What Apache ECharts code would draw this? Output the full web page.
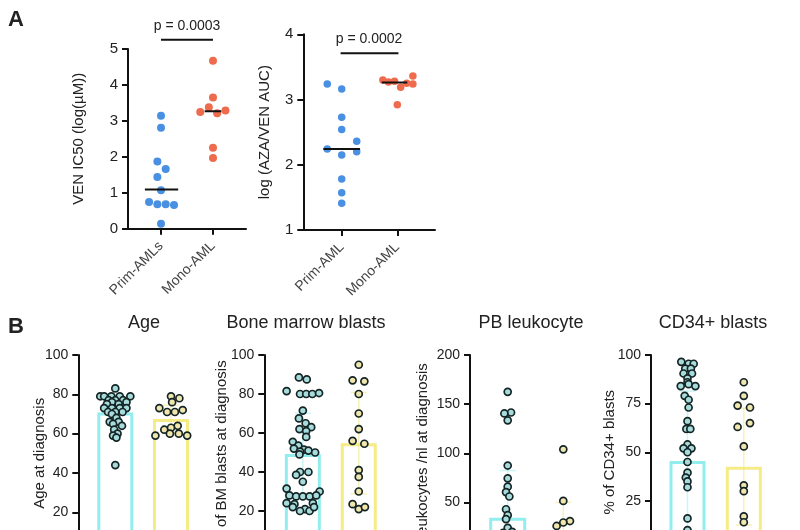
<!DOCTYPE html>
<html><head><meta charset="utf-8">
<script src="https://cdn.jsdelivr.net/npm/echarts@6/dist/echarts.min.js"></script>
<style>html,body{margin:0;padding:0;background:#fff;overflow:hidden;width:800px;height:530px}#c{width:800px;height:570px}</style>
</head><body><div id="c"></div>
<script>
// ---------- Panel A, left: VEN IC50 ----------
const a1Categories = ['Prim-AMLs', 'Mono-AML'];
// [value, beeswarm offset]
const a1Prim = [[3.14,0],[2.81,0],[1.87,-0.07],[1.66,0.09],[1.44,-0.07],[1.07,0],[0.74,-0.23],[0.68,-0.07],[0.68,0.09],[0.66,0.25],[0.14,0]];
const a1Mono = [[4.67,0],[3.65,0],[3.38,-0.08],[3.25,-0.245],[3.21,0.08],[3.29,0.24],[2.25,0],[1.97,0]];
const a1Medians = [1.09, 3.27];
const a1Bracket = 5.26;
const a1P = 'p = 0.0003';
const a1YName = 'VEN IC50 (log(µM))';

// ---------- Panel A, right: AZA/VEN AUC ----------
const a2Categories = ['Prim-AML', 'Mono-AML'];
const a2Prim = [[3.24,-0.26],[3.16,0],[2.73,0],[2.54,0],[2.36,0.27],[2.24,-0.26],[2.15,0],[2.20,0.27],[1.78,0],[1.57,0],[1.41,0]];
const a2Mono = [[3.30,-0.26],[3.27,-0.16],[3.28,-0.05],[3.19,0.06],[3.25,0.17],[3.36,0.28],[3.24,0.28],[2.92,0]];
const a2Medians = [2.24, 3.26];
const a2Bracket = 3.71;
const a2P = 'p = 0.0002';
const a2YName = 'log (AZA/VEN AUC)';

// ---------- Panel B ----------
const bTitles = ['Age', 'Bone marrow blasts', 'PB leukocyte', 'CD34+ blasts'];
const bYNames = ['Age at diagnosis', '% of BM blasts at diagnosis', 'Leukocytes /nl at diagnosis', '% of CD34+ blasts'];

const ageBars = [70.7, 67.4];
const ageSD = [7, 7];
const ageG1 = [[83,0],[79,-0.27],[79,-0.2],[79,-0.07],[79,0.08],[79,0.27],[77,-0.12],[77,0.0],[77,0.14],[76,-0.06],[76,0.2],[75,-0.15],[75,0.06],[73,-0.2],[73,-0.06],[73,0.08],[73,0.2],[71,-0.13],[71,0.0],[71,0.13],[70,-0.06],[68,0.02],[66,-0.1],[66,0.06],[65,-0.04],[64,0.12],[62,-0.02],[60,0.04],[59,-0.04],[58,0.02],[44,0]];
const ageG2 = [[79,0],[78,0.15],[76,0.02],[73,-0.21],[71,-0.07],[71,0.07],[72,0.21],[64,0.12],[62,-0.12],[63,0.0],[59,-0.28],[60,-0.02],[60,0.14],[59,0.29]];

const bmBars = [49.2, 54.8];
const bmSD = [21, 26];
const bmG1 = [[88.5,-0.07],[87.5,0.07],[81.5,-0.29],[80,-0.05],[80,0.06],[80,0.17],[80.5,0.29],[71.5,0],[67.5,-0.07],[65,0.05],[63,0.15],[62,-0.06],[61,0.06],[58,0.06],[55.5,-0.18],[53.5,-0.08],[52,-0.16],[51.5,0.02],[51,0.1],[50.5,-0.05],[50,0.22],[49,-0.06],[40,-0.05],[40,0.1],[38.5,-0.12],[35,0.0],[31.5,-0.29],[30,0.3],[28,-0.24],[27.5,-0.12],[27.5,0.0],[27.5,0.12],[28,0.24],[24,-0.29],[23.5,-0.15],[24,0.18],[22,-0.18],[21,0.04],[20,-0.05],[20,0.12],[22,0.2]];
const bmG2 = [[95,0],[87,-0.11],[86.5,0.1],[80,0],[70,0],[62,0],[56,-0.11],[54.5,0.1],[41,0],[37.5,0],[30,0],[23.5,-0.11],[21,0],[22,0.11]];

const pbBars = [34.4, 18];
const pbSD = [48, 32];
const pbG1 = [[162.5,0],[141.5,0.06],[140.5,-0.06],[133.5,0],[87.5,0],[74.5,0],[66,0],[60.5,-0.03],[56,0.03],[43,-0.03],[37,0],[33,-0.03],[24,0],[20,0.08],[19,-0.08],[15,0],[12,0.1],[10,-0.1],[8,0],[6,0.12],[5,-0.12],[4,0],[3,0.06],[2,-0.06]];
const pbG2 = [[104,0],[51.5,0],[31,0.12],[29.5,0],[26,-0.12],[15,0],[10,0.1],[8,-0.1],[5,0],[3,0.12],[2,-0.12]];

const cdBars = [45.5, 42.6];
const cdSD = [36, 30];
const cdG1 = [[96.5,-0.11],[95.5,0.02],[95.5,0.11],[93,-0.04],[93,0.06],[90.5,-0.07],[90.5,0.08],[88,0],[86,0.0],[84,-0.12],[85,0.02],[84,0.14],[79,-0.05],[77,0.02],[73,0.02],[66,0],[62,-0.02],[62,0.05],[54,0],[52,-0.07],[52,0.07],[50,0],[45,0],[39.5,0],[37,-0.03],[35,0],[32,0],[16,0],[10,0],[7,0.08],[5,-0.08],[3,0],[2,0.1],[1,-0.1]];
const cdG2 = [[86,0],[79,0],[74,-0.11],[73,0.11],[63,-0.11],[65,0.11],[53,0],[33,0],[30,0],[17,0],[14,0],[5,0],[3,0.1],[2,-0.1]];

// ---------- styles ----------
const FONT = "'Liberation Sans', Arial, Helvetica, sans-serif";
const BLUE = '#4a90e2', ORANGE = '#ee6b4e';
const CYAN = '#92eeee', YELLOW = '#f5ec86';
const CYAN_FILL = '#a8dcdc', YELLOW_FILL = '#f0e6ae', DOT_STROKE = '#152525';

const chart = echarts.init(document.getElementById('c'), null, {renderer: 'canvas'});

const grids = [
  {left: 128, top: 49, width: 118, height: 179.7},
  {left: 303.3, top: 34.3, width: 131.7, height: 195.7},
  {left: 78.3, top: 355, width: 129.7, height: 196.6},
  {left: 264.3, top: 355, width: 133, height: 195},
  {left: 470, top: 355, width: 131, height: 196.5},
  {left: 651, top: 355, width: 129.3, height: 194.5}
];
const xRanges = [[0.365,2.635],[0.309,2.678],[0.336,2.664],[0.311,2.689],[0.322,2.678],[0.352,2.648]];
const yRanges = [[0,5,1],[1,4,1],[0,100,20],[0,100,20],[0,200,50],[0,100,25]];
const yNames = [a1YName, a2YName].concat(bYNames);
const yNameGaps = [42, 31, 31, 35, 40, 34];
const xCats = [a1Categories, a2Categories];

const xAxes = xRanges.map((r, i) => {
  const base = {type: 'value', gridIndex: i, min: r[0], max: r[1], splitLine: {show: false}};
  if (i < 2) {
    return Object.assign(base, {
      axisLine: {show: true, lineStyle: {color: '#111', width: 2}},
      axisTick: {show: true, customValues: [1, 2], length: 6, lineStyle: {color: '#111', width: 2}},
      axisLabel: {show: true, customValues: [1, 2], rotate: 45, margin: 15, fontSize: 14, color: '#444', fontFamily: FONT,
        formatter: v => xCats[i][Math.round(v) - 1]}
    });
  }
  return Object.assign(base, {show: false});
});

const yAxes = yRanges.map((r, i) => ({
  type: 'value', gridIndex: i, min: r[0], max: r[1], interval: r[2],
  name: yNames[i], nameLocation: 'middle', nameGap: yNameGaps[i], nameMoveOverlap: false,
  nameTextStyle: {fontSize: 15, color: '#222', fontFamily: FONT},
  axisLine: {show: true, lineStyle: {color: '#111', width: 2}},
  axisTick: {show: true, length: 6, lineStyle: {color: '#111', width: 2}},
  axisLabel: {fontSize: i < 2 ? 15 : 14, color: '#222', margin: 10, fontFamily: FONT},
  splitLine: {show: false}
}));

function dotSeries(arr, group, gi, fill, stroke, size, bw) {
  return {
    type: 'scatter', xAxisIndex: gi, yAxisIndex: gi, symbolSize: size, z: 4,
    data: arr.map(d => [group + d[1], d[0]]),
    itemStyle: {color: fill, borderColor: stroke, borderWidth: bw, opacity: 1},
    emphasis: {disabled: true}
  };
}
function hLine(x0, x1, y, gi, clip) {
  return {type: 'line', xAxisIndex: gi, yAxisIndex: gi, symbol: 'none', clip: clip, z: 6,
    data: [[x0, y], [x1, y]], lineStyle: {color: '#111', width: 2}, silent: true};
}
function barSeries(vals, gi, bw) {
  return {type: 'bar', xAxisIndex: gi, yAxisIndex: gi, barWidth: bw, z: 2, silent: true,
    data: [
      {value: [1, vals[0]], itemStyle: {color: 'rgba(0,0,0,0)', borderColor: CYAN, borderWidth: 3}},
      {value: [2, vals[1]], itemStyle: {color: 'rgba(0,0,0,0)', borderColor: YELLOW, borderWidth: 3}}
    ]};
}
function errSeries(vals, sd, gi) {
  const cols = ['rgba(140,230,230,0.45)', 'rgba(240,228,130,0.55)'];
  return {type: 'custom', xAxisIndex: gi, yAxisIndex: gi, z: 3, silent: true,
    data: [[1, vals[0] - sd[0], vals[0] + sd[0], 0], [2, vals[1] - sd[1], vals[1] + sd[1], 1]],
    renderItem: (params, api) => {
      const lo = api.coord([api.value(0), api.value(1)]);
      const hi = api.coord([api.value(0), api.value(2)]);
      const c = cols[api.value(3)];
      const w = 8;
      return {type: 'group', children: [
        {type: 'line', shape: {x1: lo[0], y1: lo[1], x2: hi[0], y2: hi[1]}, style: {stroke: c, lineWidth: 1.5}},
        {type: 'line', shape: {x1: hi[0] - w, y1: hi[1], x2: hi[0] + w, y2: hi[1]}, style: {stroke: c, lineWidth: 1.5}},
        {type: 'line', shape: {x1: lo[0] - w, y1: lo[1], x2: lo[0] + w, y2: lo[1]}, style: {stroke: c, lineWidth: 1.5}}
      ]};
    }};
}

const series = [
  // Panel A left
  dotSeries(a1Prim, 1, 0, BLUE, BLUE, 8, 0),
  dotSeries(a1Mono, 2, 0, ORANGE, ORANGE, 8, 0),
  hLine(1 - 0.31, 1 + 0.33, a1Medians[0], 0, true),
  hLine(2 - 0.16, 2 + 0.16, a1Medians[1], 0, true),
  hLine(1, 2, a1Bracket, 0, false),
  // Panel A right
  dotSeries(a2Prim, 1, 1, BLUE, BLUE, 7.5, 0),
  dotSeries(a2Mono, 2, 1, ORANGE, ORANGE, 7.5, 0),
  hLine(1 - 0.33, 1 + 0.33, a2Medians[0], 1, true),
  hLine(2 - 0.28, 2 + 0.18, a2Medians[1], 1, true),
  hLine(0.98, 2.02, a2Bracket, 1, false),
  // Panel B
  barSeries(ageBars, 2, 36), errSeries(ageBars, ageSD, 2),
  dotSeries(ageG1, 1, 2, CYAN_FILL, DOT_STROKE, 7, 1.7),
  dotSeries(ageG2, 2, 2, YELLOW_FILL, DOT_STROKE, 7, 1.7),
  barSeries(bmBars, 3, 36), errSeries(bmBars, bmSD, 3),
  dotSeries(bmG1, 1, 3, CYAN_FILL, DOT_STROKE, 7, 1.7),
  dotSeries(bmG2, 2, 3, YELLOW_FILL, DOT_STROKE, 7, 1.7),
  barSeries(pbBars, 4, 37), errSeries(pbBars, pbSD, 4),
  dotSeries(pbG1, 1, 4, CYAN_FILL, DOT_STROKE, 7, 1.7),
  dotSeries(pbG2, 2, 4, YELLOW_FILL, DOT_STROKE, 7, 1.7),
  barSeries(cdBars, 5, 36), errSeries(cdBars, cdSD, 5),
  dotSeries(cdG1, 1, 5, CYAN_FILL, DOT_STROKE, 7, 1.7),
  dotSeries(cdG2, 2, 5, YELLOW_FILL, DOT_STROKE, 7, 1.7)
];

function txt(s, x, y, size, weight, align) {
  return {type: 'text', x: x, y: y, silent: true,
    style: {text: s, fontSize: size, fontWeight: weight || 'normal', fill: '#222', fontFamily: FONT,
      textAlign: align || 'center', textVerticalAlign: 'middle'}};
}
const graphics = [
  txt('A', 8, 20, 22, 'bold', 'left'),
  txt('B', 8, 327, 22, 'bold', 'left'),
  txt(a1P, 187, 26, 14),
  txt(a2P, 369, 39, 14),
  txt(bTitles[0], 144, 323, 18),
  txt(bTitles[1], 306, 323, 18),
  txt(bTitles[2], 531, 323, 18),
  txt(bTitles[3], 713, 323, 18)
];

chart.setOption({
  animation: false,
  backgroundColor: '#fff',
  textStyle: {fontFamily: FONT},
  grid: grids,
  xAxis: xAxes,
  yAxis: yAxes,
  series: series,
  graphic: graphics
});
</script></body></html>
